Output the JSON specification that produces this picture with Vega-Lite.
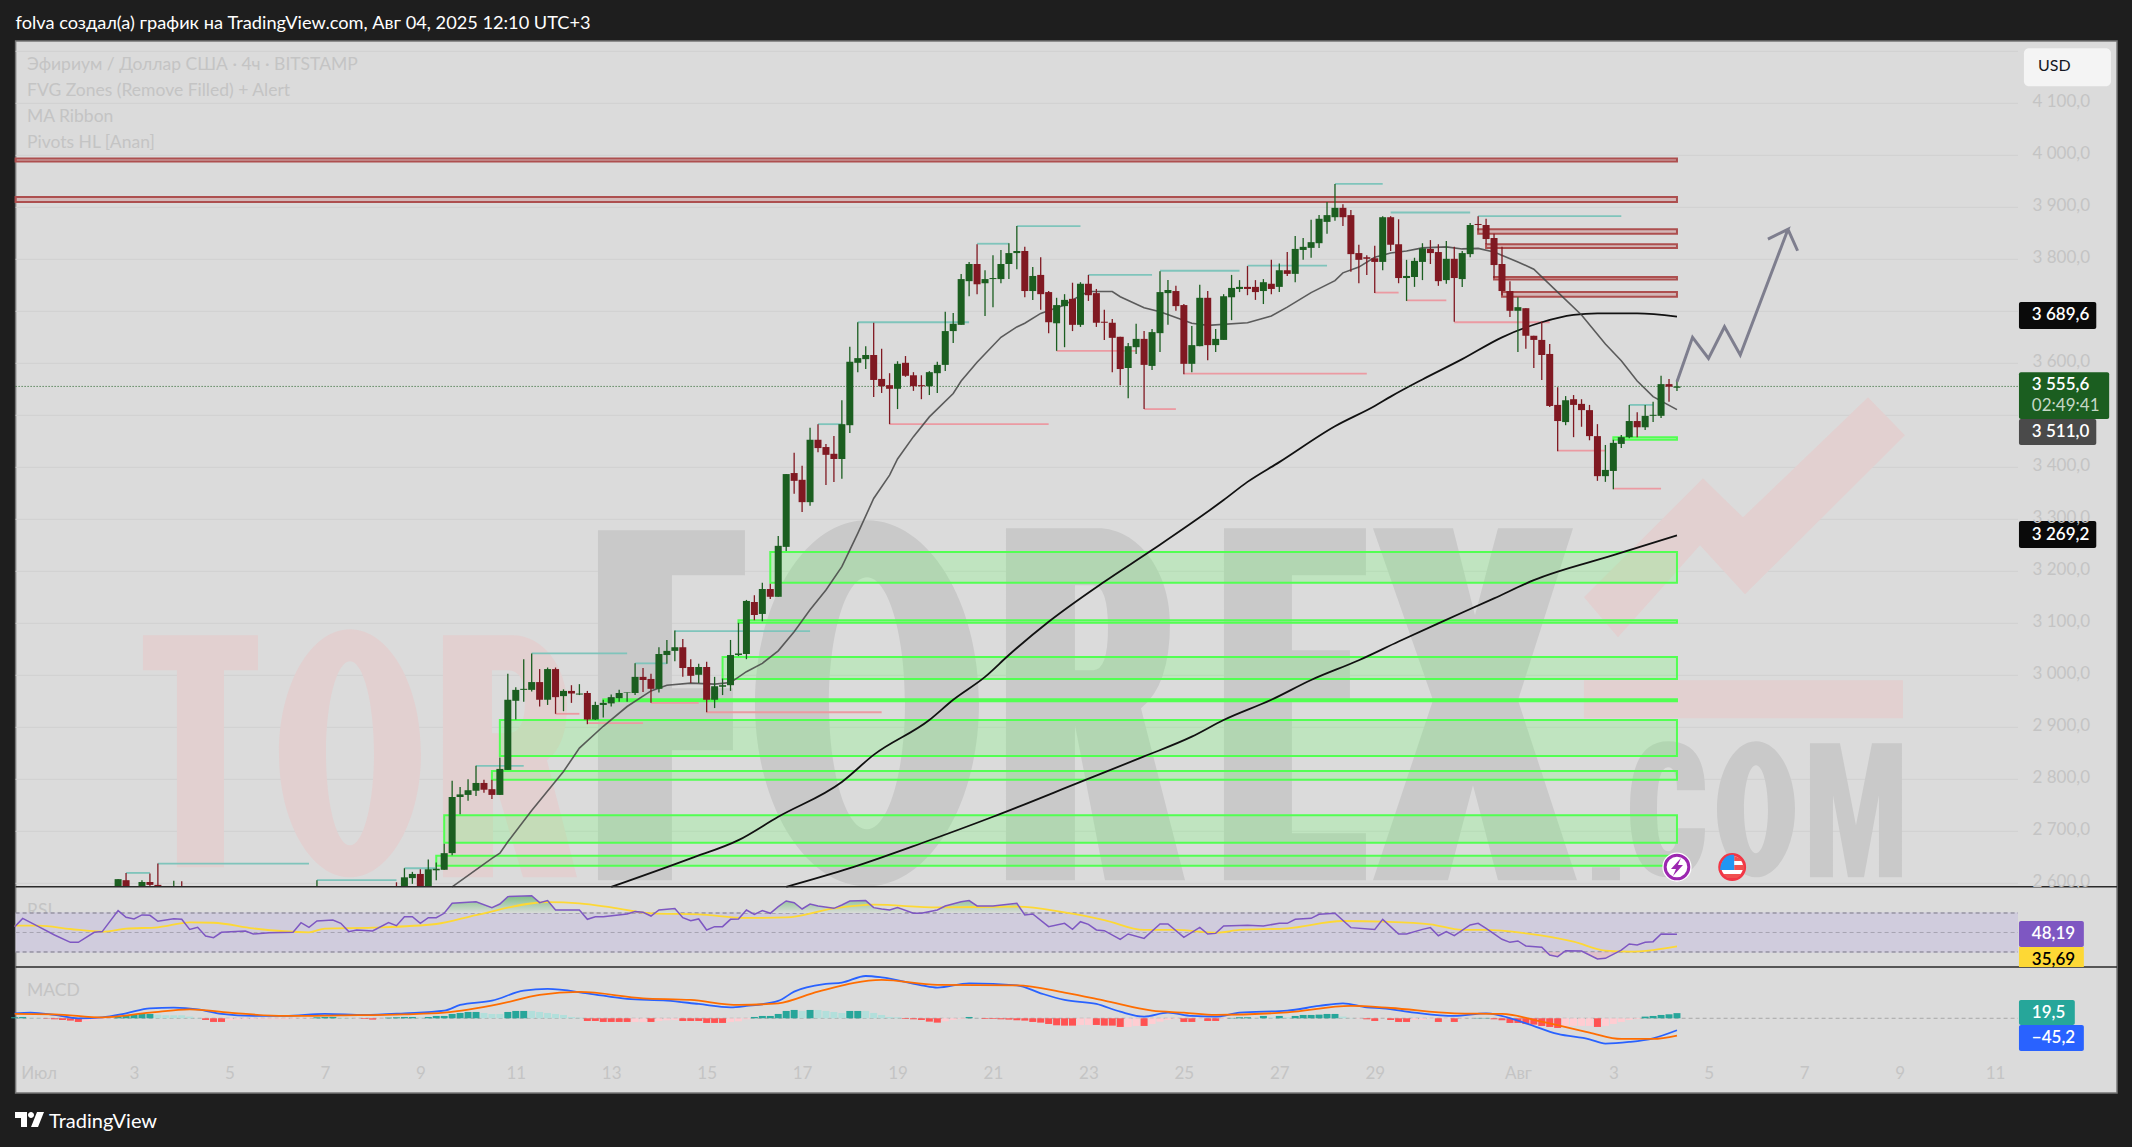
{"$schema":"https://vega.github.io/schema/vega-lite/v6.json","width":2132,"height":1147,"padding":0,"autosize":{"type":"none"},"background":"#1e1e1e","config":{"view":{"stroke":null},"font":"Lato"},
"datasets":{
"frame":[{"t":"2025-06-30T12:27Z","t2":"2025-08-13T13:19Z","p":4219.8,"p2":2196.7}],
"vgrid":[{"t":"2025-07-01T00:00Z"},{"t":"2025-07-03T00:00Z"},{"t":"2025-07-05T00:00Z"},{"t":"2025-07-07T00:00Z"},{"t":"2025-07-09T00:00Z"},{"t":"2025-07-11T00:00Z"},{"t":"2025-07-13T00:00Z"},{"t":"2025-07-15T00:00Z"},{"t":"2025-07-17T00:00Z"},{"t":"2025-07-19T00:00Z"},{"t":"2025-07-21T00:00Z"},{"t":"2025-07-23T00:00Z"},{"t":"2025-07-25T00:00Z"},{"t":"2025-07-27T00:00Z"},{"t":"2025-07-29T00:00Z"},{"t":"2025-08-01T00:00Z"},{"t":"2025-08-03T00:00Z"},{"t":"2025-08-05T00:00Z"},{"t":"2025-08-07T00:00Z"},{"t":"2025-08-09T00:00Z"},{"t":"2025-08-11T00:00Z"}],
"hgrid":[{"t":"2025-06-30T12:27Z","t2":"2025-08-11T11:31Z","p":2600},{"t":"2025-06-30T12:27Z","t2":"2025-08-11T11:31Z","p":2700},{"t":"2025-06-30T12:27Z","t2":"2025-08-11T11:31Z","p":2800},{"t":"2025-06-30T12:27Z","t2":"2025-08-11T11:31Z","p":2900},{"t":"2025-06-30T12:27Z","t2":"2025-08-11T11:31Z","p":3000},{"t":"2025-06-30T12:27Z","t2":"2025-08-11T11:31Z","p":3100},{"t":"2025-06-30T12:27Z","t2":"2025-08-11T11:31Z","p":3200},{"t":"2025-06-30T12:27Z","t2":"2025-08-11T11:31Z","p":3300},{"t":"2025-06-30T12:27Z","t2":"2025-08-11T11:31Z","p":3400},{"t":"2025-06-30T12:27Z","t2":"2025-08-11T11:31Z","p":3500},{"t":"2025-06-30T12:27Z","t2":"2025-08-11T11:31Z","p":3600},{"t":"2025-06-30T12:27Z","t2":"2025-08-11T11:31Z","p":3700},{"t":"2025-06-30T12:27Z","t2":"2025-08-11T11:31Z","p":3800},{"t":"2025-06-30T12:27Z","t2":"2025-08-11T11:31Z","p":3900},{"t":"2025-06-30T12:27Z","t2":"2025-08-11T11:31Z","p":4000},{"t":"2025-06-30T12:27Z","t2":"2025-08-11T11:31Z","p":4100},{"t":"2025-06-30T12:27Z","t2":"2025-08-11T11:31Z","p":4200}],
"anchor":[{"t":"2025-07-21T00:00Z","p":3000}],
"zonesG":[{"t":"2025-07-16T08:00Z","t2":"2025-08-04T08:00Z","p":3237,"p2":3178},{"t":"2025-07-15T16:00Z","t2":"2025-08-04T08:00Z","p":3106,"p2":3101},{"t":"2025-07-15T08:00Z","t2":"2025-08-04T08:00Z","p":3035,"p2":2993},{"t":"2025-07-12T20:00Z","t2":"2025-08-04T08:00Z","p":2954,"p2":2950},{"t":"2025-07-10T16:00Z","t2":"2025-08-04T08:00Z","p":2914,"p2":2845},{"t":"2025-07-10T12:00Z","t2":"2025-08-04T08:00Z","p":2816,"p2":2799},{"t":"2025-07-09T12:00Z","t2":"2025-08-04T08:00Z","p":2731,"p2":2678},{"t":"2025-07-09T08:00Z","t2":"2025-08-04T08:00Z","p":2653,"p2":2634},{"t":"2025-08-03T00:00Z","t2":"2025-08-04T08:00Z","p":3458,"p2":3453}],
"zonesR":[{"t":"2025-06-30T12:27Z","t2":"2025-08-04T08:00Z","p":3994,"p2":3988},{"t":"2025-06-30T12:27Z","t2":"2025-08-04T08:00Z","p":3920,"p2":3910},{"t":"2025-07-31T04:00Z","t2":"2025-08-04T08:00Z","p":3858,"p2":3849},{"t":"2025-07-31T08:00Z","t2":"2025-08-04T08:00Z","p":3829,"p2":3822},{"t":"2025-07-31T12:00Z","t2":"2025-08-04T08:00Z","p":3766,"p2":3761},{"t":"2025-07-31T16:00Z","t2":"2025-08-04T08:00Z","p":3737,"p2":3728}],
"highs":[{"t":"2025-07-02T20:00Z","t2":"2025-07-03T08:00Z","p":2620},{"t":"2025-07-03T12:00Z","t2":"2025-07-06T16:00Z","p":2638},{"t":"2025-07-06T20:00Z","t2":"2025-07-08T12:00Z","p":2606},{"t":"2025-07-08T16:00Z","t2":"2025-07-09T08:00Z","p":2629},{"t":"2025-07-10T04:00Z","t2":"2025-07-11T04:00Z","p":2826},{"t":"2025-07-11T08:00Z","t2":"2025-07-13T08:00Z","p":3042},{"t":"2025-07-13T12:00Z","t2":"2025-07-14T04:00Z","p":3023},{"t":"2025-07-14T08:00Z","t2":"2025-07-17T04:00Z","p":3085},{"t":"2025-07-17T08:00Z","t2":"2025-07-17T20:00Z","p":3483},{"t":"2025-07-18T04:00Z","t2":"2025-07-20T12:00Z","p":3679},{"t":"2025-07-20T16:00Z","t2":"2025-07-21T08:00Z","p":3830},{"t":"2025-07-21T12:00Z","t2":"2025-07-22T20:00Z","p":3864},{"t":"2025-07-23T00:00Z","t2":"2025-07-24T08:00Z","p":3770},{"t":"2025-07-24T12:00Z","t2":"2025-07-26T04:00Z","p":3778},{"t":"2025-07-26T08:00Z","t2":"2025-07-28T00:00Z","p":3788},{"t":"2025-07-28T04:00Z","t2":"2025-07-29T04:00Z","p":3945},{"t":"2025-07-29T08:00Z","t2":"2025-07-31T00:00Z","p":3890},{"t":"2025-07-31T04:00Z","t2":"2025-08-03T04:00Z","p":3883},{"t":"2025-08-03T08:00Z","t2":"2025-08-03T20:00Z","p":3520}],
"lows":[{"t":"2025-07-11T20:00Z","t2":"2025-07-12T08:00Z","p":2926},{"t":"2025-07-12T12:00Z","t2":"2025-07-13T16:00Z","p":2908},{"t":"2025-07-13T20:00Z","t2":"2025-07-14T20:00Z","p":2947},{"t":"2025-07-15T00:00Z","t2":"2025-07-18T16:00Z","p":2929},{"t":"2025-07-18T20:00Z","t2":"2025-07-22T04:00Z","p":3483},{"t":"2025-07-22T08:00Z","t2":"2025-07-24T00:00Z","p":3624},{"t":"2025-07-24T04:00Z","t2":"2025-07-24T20:00Z","p":3512},{"t":"2025-07-25T00:00Z","t2":"2025-07-28T20:00Z","p":3580},{"t":"2025-07-29T00:00Z","t2":"2025-07-29T12:00Z","p":3736},{"t":"2025-07-29T16:00Z","t2":"2025-07-30T12:00Z","p":3721},{"t":"2025-07-30T16:00Z","t2":"2025-08-01T16:00Z","p":3679},{"t":"2025-08-01T20:00Z","t2":"2025-08-02T20:00Z","p":3432},{"t":"2025-08-03T00:00Z","t2":"2025-08-04T00:00Z","p":3359}],
"maFast":[{"t":"2025-07-09T16:00Z","p":2593},{"t":"2025-07-10T12:00Z","p":2648},{"t":"2025-07-10T16:00Z","p":2658},{"t":"2025-07-10T20:00Z","p":2680},{"t":"2025-07-11T08:00Z","p":2740},{"t":"2025-07-12T00:00Z","p":2815},{"t":"2025-07-12T08:00Z","p":2860},{"t":"2025-07-12T20:00Z","p":2902},{"t":"2025-07-13T08:00Z","p":2940},{"t":"2025-07-13T20:00Z","p":2970},{"t":"2025-07-14T04:00Z","p":2981},{"t":"2025-07-14T16:00Z","p":2985},{"t":"2025-07-15T04:00Z","p":2983},{"t":"2025-07-15T12:00Z","p":2986},{"t":"2025-07-15T20:00Z","p":3007},{"t":"2025-07-16T04:00Z","p":3023},{"t":"2025-07-16T12:00Z","p":3047},{"t":"2025-07-16T20:00Z","p":3084},{"t":"2025-07-17T04:00Z","p":3126},{"t":"2025-07-17T12:00Z","p":3164},{"t":"2025-07-17T20:00Z","p":3209},{"t":"2025-07-18T04:00Z","p":3273},{"t":"2025-07-18T12:00Z","p":3340},{"t":"2025-07-18T20:00Z","p":3385},{"t":"2025-07-19T00:00Z","p":3416},{"t":"2025-07-19T08:00Z","p":3459},{"t":"2025-07-19T16:00Z","p":3497},{"t":"2025-07-20T04:00Z","p":3542},{"t":"2025-07-20T08:00Z","p":3566},{"t":"2025-07-20T16:00Z","p":3602},{"t":"2025-07-21T04:00Z","p":3650},{"t":"2025-07-21T12:00Z","p":3670},{"t":"2025-07-21T16:00Z","p":3677},{"t":"2025-07-22T00:00Z","p":3696},{"t":"2025-07-22T12:00Z","p":3712},{"t":"2025-07-22T16:00Z","p":3722},{"t":"2025-07-23T00:00Z","p":3738},{"t":"2025-07-23T12:00Z","p":3738},{"t":"2025-07-23T16:00Z","p":3728},{"t":"2025-07-24T04:00Z","p":3707},{"t":"2025-07-24T12:00Z","p":3699},{"t":"2025-07-24T20:00Z","p":3688},{"t":"2025-07-25T04:00Z","p":3677},{"t":"2025-07-25T12:00Z","p":3673},{"t":"2025-07-26T08:00Z","p":3678},{"t":"2025-07-26T20:00Z","p":3691},{"t":"2025-07-27T04:00Z","p":3708},{"t":"2025-07-27T16:00Z","p":3736},{"t":"2025-07-28T04:00Z","p":3759},{"t":"2025-07-28T08:00Z","p":3774},{"t":"2025-07-28T16:00Z","p":3785},{"t":"2025-07-29T00:00Z","p":3804},{"t":"2025-07-29T08:00Z","p":3812},{"t":"2025-07-29T16:00Z","p":3816},{"t":"2025-07-30T00:00Z","p":3822},{"t":"2025-07-30T12:00Z","p":3824},{"t":"2025-07-30T20:00Z","p":3820},{"t":"2025-07-31T04:00Z","p":3821},{"t":"2025-07-31T12:00Z","p":3814},{"t":"2025-08-01T00:00Z","p":3795},{"t":"2025-08-01T08:00Z","p":3781},{"t":"2025-08-01T20:00Z","p":3737},{"t":"2025-08-02T08:00Z","p":3693},{"t":"2025-08-02T20:00Z","p":3637},{"t":"2025-08-03T04:00Z","p":3605},{"t":"2025-08-03T12:00Z","p":3566},{"t":"2025-08-03T20:00Z","p":3536},{"t":"2025-08-04T08:00Z","p":3511}],
"maMid":[{"t":"2025-07-13T00:00Z","p":2593},{"t":"2025-07-14T16:00Z","p":2648},{"t":"2025-07-15T16:00Z","p":2683},{"t":"2025-07-16T12:00Z","p":2728},{"t":"2025-07-17T20:00Z","p":2795},{"t":"2025-07-18T12:00Z","p":2847},{"t":"2025-07-19T16:00Z","p":2914},{"t":"2025-07-20T04:00Z","p":2953},{"t":"2025-07-20T20:00Z","p":2997},{"t":"2025-07-21T08:00Z","p":3039},{"t":"2025-07-22T04:00Z","p":3103},{"t":"2025-07-23T08:00Z","p":3180},{"t":"2025-07-24T08:00Z","p":3241},{"t":"2025-07-25T20:00Z","p":3337},{"t":"2025-07-26T08:00Z","p":3372},{"t":"2025-07-27T00:00Z","p":3410},{"t":"2025-07-28T04:00Z","p":3479},{"t":"2025-07-29T00:00Z","p":3518},{"t":"2025-07-29T08:00Z","p":3536},{"t":"2025-07-30T00:00Z","p":3569},{"t":"2025-07-30T20:00Z","p":3608},{"t":"2025-07-31T16:00Z","p":3650},{"t":"2025-08-01T12:00Z","p":3679},{"t":"2025-08-02T04:00Z","p":3693},{"t":"2025-08-02T16:00Z","p":3696},{"t":"2025-08-03T12:00Z","p":3696},{"t":"2025-08-04T08:00Z","p":3690}],
"maSlow":[{"t":"2025-07-16T16:00Z","p":2593},{"t":"2025-07-18T00:00Z","p":2629},{"t":"2025-07-19T12:00Z","p":2677},{"t":"2025-07-21T00:00Z","p":2728},{"t":"2025-07-22T20:00Z","p":2795},{"t":"2025-07-24T04:00Z","p":2844},{"t":"2025-07-25T04:00Z","p":2882},{"t":"2025-07-25T20:00Z","p":2914},{"t":"2025-07-26T20:00Z","p":2953},{"t":"2025-07-27T16:00Z","p":2991},{"t":"2025-07-28T16:00Z","p":3029},{"t":"2025-07-29T12:00Z","p":3065},{"t":"2025-07-30T08:00Z","p":3100},{"t":"2025-07-31T12:00Z","p":3148},{"t":"2025-08-01T08:00Z","p":3183},{"t":"2025-08-03T00:00Z","p":3231},{"t":"2025-08-04T08:00Z","p":3269.2}],
"arrow":[{"i":1,"t":"2025-08-04T08:00Z","p":3564.6},{"i":2,"t":"2025-08-04T15:50Z","p":3650},{"i":3,"t":"2025-08-04T23:51Z","p":3609.6},{"i":4,"t":"2025-08-05T07:54Z","p":3670.4},{"i":5,"t":"2025-08-05T15:50Z","p":3616},{"i":6,"t":"2025-08-06T15:50Z","p":3857.7},{"i":7,"t":"2025-08-06T05:45Z","p":3839},{"i":8,"t":"2025-08-06T15:50Z","p":3857.7},{"i":9,"t":"2025-08-06T20:40Z","p":3816.5}],
"candles":[
{"t":"2025-07-02T16:00Z","o":2593.2,"h":2608,"l":2593.2,"c":2608},
{"t":"2025-07-02T20:00Z","o":2606,"h":2620,"l":2593.2,"c":2593.2},
{"t":"2025-07-03T04:00Z","o":2593.2,"h":2606,"l":2593.2,"c":2602.5},
{"t":"2025-07-03T08:00Z","o":2602.5,"h":2619,"l":2593.2,"c":2597},
{"t":"2025-07-03T12:00Z","o":2597,"h":2638,"l":2593.2,"c":2593.2},
{"t":"2025-07-03T16:00Z","o":2593.2,"h":2595,"l":2593.2,"c":2593.2},
{"t":"2025-07-03T20:00Z","o":2593.2,"h":2605,"l":2593.2,"c":2593.2},
{"t":"2025-07-04T00:00Z","o":2593.3,"h":2604,"l":2593.2,"c":2593.2},
{"t":"2025-07-06T20:00Z","o":2593.2,"h":2606,"l":2593.2,"c":2593.2},
{"t":"2025-07-08T12:00Z","o":2593.3,"h":2602,"l":2593.2,"c":2593.2},
{"t":"2025-07-08T16:00Z","o":2593.2,"h":2629,"l":2593.2,"c":2611.5},
{"t":"2025-07-08T20:00Z","o":2610,"h":2622,"l":2599,"c":2618},
{"t":"2025-07-09T00:00Z","o":2618,"h":2627,"l":2593.2,"c":2593.2},
{"t":"2025-07-09T04:00Z","o":2593.2,"h":2646,"l":2593.2,"c":2627},
{"t":"2025-07-09T08:00Z","o":2625,"h":2640,"l":2606,"c":2628},
{"t":"2025-07-09T12:00Z","o":2626,"h":2676,"l":2626,"c":2658},
{"t":"2025-07-09T16:00Z","o":2658,"h":2797,"l":2654,"c":2766},
{"t":"2025-07-09T20:00Z","o":2766,"h":2785,"l":2733,"c":2771},
{"t":"2025-07-10T00:00Z","o":2770,"h":2800,"l":2759,"c":2779},
{"t":"2025-07-10T04:00Z","o":2778,"h":2826,"l":2768,"c":2793},
{"t":"2025-07-10T08:00Z","o":2793,"h":2799,"l":2774,"c":2780},
{"t":"2025-07-10T12:00Z","o":2781,"h":2799,"l":2762,"c":2770},
{"t":"2025-07-10T16:00Z","o":2770,"h":2842,"l":2770,"c":2820},
{"t":"2025-07-10T20:00Z","o":2818,"h":3003,"l":2818,"c":2953},
{"t":"2025-07-11T00:00Z","o":2951,"h":2977,"l":2915,"c":2972},
{"t":"2025-07-11T04:00Z","o":2972,"h":3031,"l":2949,"c":2974},
{"t":"2025-07-11T08:00Z","o":2972,"h":3042,"l":2969,"c":2987},
{"t":"2025-07-11T12:00Z","o":2987,"h":3012,"l":2940,"c":2953},
{"t":"2025-07-11T16:00Z","o":2953,"h":3015,"l":2943,"c":3012},
{"t":"2025-07-11T20:00Z","o":3012,"h":3015,"l":2926,"c":2958},
{"t":"2025-07-12T00:00Z","o":2960,"h":2973,"l":2931,"c":2970},
{"t":"2025-07-12T04:00Z","o":2970,"h":2981,"l":2947,"c":2965},
{"t":"2025-07-12T08:00Z","o":2963,"h":2983,"l":2962,"c":2965},
{"t":"2025-07-12T12:00Z","o":2966,"h":2970,"l":2906,"c":2915},
{"t":"2025-07-12T16:00Z","o":2915,"h":2949,"l":2914,"c":2943},
{"t":"2025-07-12T20:00Z","o":2943,"h":2953,"l":2919,"c":2947},
{"t":"2025-07-13T00:00Z","o":2946,"h":2963,"l":2940,"c":2958},
{"t":"2025-07-13T04:00Z","o":2956,"h":2972,"l":2949,"c":2966},
{"t":"2025-07-13T08:00Z","o":2966,"h":2967,"l":2949,"c":2967},
{"t":"2025-07-13T12:00Z","o":2966,"h":3023,"l":2962,"c":2997},
{"t":"2025-07-13T16:00Z","o":2997,"h":3014,"l":2968,"c":2991},
{"t":"2025-07-13T20:00Z","o":2993,"h":3003,"l":2947,"c":2974},
{"t":"2025-07-14T00:00Z","o":2974,"h":3054,"l":2967,"c":3041},
{"t":"2025-07-14T04:00Z","o":3039,"h":3068,"l":3022,"c":3047},
{"t":"2025-07-14T08:00Z","o":3047,"h":3086,"l":3027,"c":3054},
{"t":"2025-07-14T12:00Z","o":3054,"h":3070,"l":2997,"c":3014},
{"t":"2025-07-14T16:00Z","o":3016,"h":3031,"l":2985,"c":2999},
{"t":"2025-07-14T20:00Z","o":3001,"h":3022,"l":2985,"c":3016},
{"t":"2025-07-15T00:00Z","o":3016,"h":3026,"l":2929,"c":2953},
{"t":"2025-07-15T04:00Z","o":2953,"h":2997,"l":2937,"c":2979},
{"t":"2025-07-15T08:00Z","o":2978,"h":2994,"l":2962,"c":2981},
{"t":"2025-07-15T12:00Z","o":2981,"h":3068,"l":2970,"c":3039},
{"t":"2025-07-15T16:00Z","o":3039,"h":3101,"l":3037,"c":3042},
{"t":"2025-07-15T20:00Z","o":3041,"h":3145,"l":3031,"c":3143},
{"t":"2025-07-16T00:00Z","o":3141,"h":3154,"l":3106,"c":3116},
{"t":"2025-07-16T04:00Z","o":3118,"h":3178,"l":3104,"c":3166},
{"t":"2025-07-16T08:00Z","o":3166,"h":3176,"l":3147,"c":3151},
{"t":"2025-07-16T12:00Z","o":3151,"h":3268,"l":3151,"c":3249},
{"t":"2025-07-16T16:00Z","o":3247,"h":3387,"l":3239,"c":3387},
{"t":"2025-07-16T20:00Z","o":3389,"h":3428,"l":3349,"c":3374},
{"t":"2025-07-17T00:00Z","o":3376,"h":3403,"l":3314,"c":3333},
{"t":"2025-07-17T04:00Z","o":3333,"h":3476,"l":3326,"c":3453},
{"t":"2025-07-17T08:00Z","o":3453,"h":3483,"l":3429,"c":3437},
{"t":"2025-07-17T12:00Z","o":3439,"h":3445,"l":3366,"c":3424},
{"t":"2025-07-17T16:00Z","o":3426,"h":3460,"l":3372,"c":3416},
{"t":"2025-07-17T20:00Z","o":3416,"h":3529,"l":3378,"c":3483},
{"t":"2025-07-18T00:00Z","o":3481,"h":3632,"l":3466,"c":3603},
{"t":"2025-07-18T04:00Z","o":3601,"h":3679,"l":3583,"c":3610},
{"t":"2025-07-18T08:00Z","o":3608,"h":3633,"l":3589,"c":3616},
{"t":"2025-07-18T12:00Z","o":3616,"h":3678,"l":3535,"c":3568},
{"t":"2025-07-18T16:00Z","o":3570,"h":3628,"l":3543,"c":3556},
{"t":"2025-07-18T20:00Z","o":3558,"h":3581,"l":3483,"c":3551},
{"t":"2025-07-19T00:00Z","o":3551,"h":3604,"l":3512,"c":3599},
{"t":"2025-07-19T04:00Z","o":3601,"h":3614,"l":3574,"c":3576},
{"t":"2025-07-19T08:00Z","o":3577,"h":3583,"l":3547,"c":3556},
{"t":"2025-07-19T12:00Z","o":3558,"h":3577,"l":3531,"c":3556},
{"t":"2025-07-19T16:00Z","o":3556,"h":3585,"l":3539,"c":3583},
{"t":"2025-07-19T20:00Z","o":3581,"h":3603,"l":3543,"c":3597},
{"t":"2025-07-20T00:00Z","o":3597,"h":3699,"l":3585,"c":3662},
{"t":"2025-07-20T04:00Z","o":3662,"h":3697,"l":3639,"c":3676},
{"t":"2025-07-20T08:00Z","o":3674,"h":3772,"l":3674,"c":3762},
{"t":"2025-07-20T12:00Z","o":3758,"h":3795,"l":3729,"c":3791},
{"t":"2025-07-20T16:00Z","o":3791,"h":3829,"l":3733,"c":3752},
{"t":"2025-07-20T20:00Z","o":3754,"h":3779,"l":3691,"c":3762},
{"t":"2025-07-21T00:00Z","o":3762,"h":3808,"l":3708,"c":3764},
{"t":"2025-07-21T04:00Z","o":3762,"h":3818,"l":3754,"c":3791},
{"t":"2025-07-21T08:00Z","o":3791,"h":3831,"l":3762,"c":3812},
{"t":"2025-07-21T12:00Z","o":3812,"h":3864,"l":3781,"c":3816},
{"t":"2025-07-21T16:00Z","o":3816,"h":3824,"l":3727,"c":3739},
{"t":"2025-07-21T20:00Z","o":3739,"h":3785,"l":3722,"c":3768},
{"t":"2025-07-22T00:00Z","o":3770,"h":3804,"l":3703,"c":3733},
{"t":"2025-07-22T04:00Z","o":3737,"h":3739,"l":3658,"c":3679},
{"t":"2025-07-22T08:00Z","o":3677,"h":3726,"l":3624,"c":3712},
{"t":"2025-07-22T12:00Z","o":3710,"h":3733,"l":3631,"c":3722},
{"t":"2025-07-22T16:00Z","o":3724,"h":3755,"l":3662,"c":3674},
{"t":"2025-07-22T20:00Z","o":3674,"h":3756,"l":3670,"c":3753},
{"t":"2025-07-23T00:00Z","o":3753,"h":3770,"l":3720,"c":3731},
{"t":"2025-07-23T04:00Z","o":3735,"h":3743,"l":3670,"c":3678},
{"t":"2025-07-23T08:00Z","o":3680,"h":3703,"l":3645,"c":3678},
{"t":"2025-07-23T12:00Z","o":3678,"h":3685,"l":3583,"c":3649},
{"t":"2025-07-23T16:00Z","o":3651,"h":3651,"l":3558,"c":3589},
{"t":"2025-07-23T20:00Z","o":3591,"h":3639,"l":3533,"c":3633},
{"t":"2025-07-24T00:00Z","o":3631,"h":3676,"l":3618,"c":3647},
{"t":"2025-07-24T04:00Z","o":3647,"h":3662,"l":3512,"c":3597},
{"t":"2025-07-24T08:00Z","o":3595,"h":3666,"l":3587,"c":3660},
{"t":"2025-07-24T12:00Z","o":3658,"h":3777,"l":3622,"c":3737},
{"t":"2025-07-24T16:00Z","o":3735,"h":3760,"l":3674,"c":3741},
{"t":"2025-07-24T20:00Z","o":3739,"h":3749,"l":3701,"c":3710},
{"t":"2025-07-25T00:00Z","o":3712,"h":3714,"l":3579,"c":3599},
{"t":"2025-07-25T04:00Z","o":3599,"h":3672,"l":3583,"c":3635},
{"t":"2025-07-25T08:00Z","o":3633,"h":3751,"l":3633,"c":3726},
{"t":"2025-07-25T12:00Z","o":3726,"h":3739,"l":3606,"c":3635},
{"t":"2025-07-25T16:00Z","o":3635,"h":3666,"l":3622,"c":3647},
{"t":"2025-07-25T20:00Z","o":3645,"h":3733,"l":3645,"c":3729},
{"t":"2025-07-26T00:00Z","o":3727,"h":3770,"l":3683,"c":3745},
{"t":"2025-07-26T04:00Z","o":3743,"h":3760,"l":3737,"c":3747},
{"t":"2025-07-26T08:00Z","o":3747,"h":3787,"l":3731,"c":3743},
{"t":"2025-07-26T12:00Z","o":3747,"h":3760,"l":3722,"c":3737},
{"t":"2025-07-26T16:00Z","o":3739,"h":3762,"l":3714,"c":3756},
{"t":"2025-07-26T20:00Z","o":3753,"h":3799,"l":3733,"c":3743},
{"t":"2025-07-27T00:00Z","o":3747,"h":3792,"l":3737,"c":3779},
{"t":"2025-07-27T04:00Z","o":3779,"h":3814,"l":3768,"c":3772},
{"t":"2025-07-27T08:00Z","o":3772,"h":3845,"l":3756,"c":3820},
{"t":"2025-07-27T12:00Z","o":3818,"h":3841,"l":3799,"c":3824},
{"t":"2025-07-27T16:00Z","o":3822,"h":3876,"l":3803,"c":3833},
{"t":"2025-07-27T20:00Z","o":3831,"h":3885,"l":3822,"c":3878},
{"t":"2025-07-28T00:00Z","o":3872,"h":3910,"l":3849,"c":3885},
{"t":"2025-07-28T04:00Z","o":3881,"h":3945,"l":3874,"c":3899},
{"t":"2025-07-28T08:00Z","o":3899,"h":3906,"l":3864,"c":3881},
{"t":"2025-07-28T12:00Z","o":3885,"h":3895,"l":3776,"c":3810},
{"t":"2025-07-28T16:00Z","o":3812,"h":3828,"l":3754,"c":3799},
{"t":"2025-07-28T20:00Z","o":3804,"h":3808,"l":3770,"c":3801},
{"t":"2025-07-29T00:00Z","o":3802,"h":3826,"l":3735,"c":3795},
{"t":"2025-07-29T04:00Z","o":3795,"h":3883,"l":3779,"c":3881},
{"t":"2025-07-29T08:00Z","o":3881,"h":3883,"l":3816,"c":3828},
{"t":"2025-07-29T12:00Z","o":3829,"h":3877,"l":3754,"c":3764},
{"t":"2025-07-29T16:00Z","o":3764,"h":3799,"l":3720,"c":3768},
{"t":"2025-07-29T20:00Z","o":3766,"h":3803,"l":3747,"c":3797},
{"t":"2025-07-30T00:00Z","o":3795,"h":3831,"l":3760,"c":3821},
{"t":"2025-07-30T04:00Z","o":3820,"h":3837,"l":3791,"c":3812},
{"t":"2025-07-30T08:00Z","o":3814,"h":3829,"l":3749,"c":3758},
{"t":"2025-07-30T12:00Z","o":3760,"h":3835,"l":3753,"c":3801},
{"t":"2025-07-30T16:00Z","o":3801,"h":3824,"l":3680,"c":3764},
{"t":"2025-07-30T20:00Z","o":3762,"h":3816,"l":3747,"c":3812},
{"t":"2025-07-31T00:00Z","o":3810,"h":3870,"l":3804,"c":3866},
{"t":"2025-07-31T04:00Z","o":3868,"h":3883,"l":3856,"c":3866},
{"t":"2025-07-31T08:00Z","o":3866,"h":3878,"l":3829,"c":3839},
{"t":"2025-07-31T12:00Z","o":3841,"h":3849,"l":3764,"c":3789},
{"t":"2025-07-31T16:00Z","o":3791,"h":3824,"l":3731,"c":3739},
{"t":"2025-07-31T20:00Z","o":3739,"h":3758,"l":3689,"c":3701},
{"t":"2025-08-01T00:00Z","o":3701,"h":3727,"l":3622,"c":3708},
{"t":"2025-08-01T04:00Z","o":3706,"h":3706,"l":3628,"c":3653},
{"t":"2025-08-01T08:00Z","o":3653,"h":3653,"l":3591,"c":3645},
{"t":"2025-08-01T12:00Z","o":3645,"h":3680,"l":3568,"c":3616},
{"t":"2025-08-01T16:00Z","o":3618,"h":3637,"l":3516,"c":3518},
{"t":"2025-08-01T20:00Z","o":3520,"h":3554,"l":3431,"c":3489},
{"t":"2025-08-02T00:00Z","o":3487,"h":3537,"l":3481,"c":3529},
{"t":"2025-08-02T04:00Z","o":3531,"h":3539,"l":3458,"c":3520},
{"t":"2025-08-02T08:00Z","o":3522,"h":3531,"l":3478,"c":3510},
{"t":"2025-08-02T12:00Z","o":3510,"h":3520,"l":3452,"c":3460},
{"t":"2025-08-02T16:00Z","o":3460,"h":3483,"l":3374,"c":3383},
{"t":"2025-08-02T20:00Z","o":3383,"h":3443,"l":3372,"c":3395},
{"t":"2025-08-03T00:00Z","o":3393,"h":3453,"l":3358,"c":3447},
{"t":"2025-08-03T04:00Z","o":3445,"h":3462,"l":3437,"c":3458},
{"t":"2025-08-03T08:00Z","o":3458,"h":3520,"l":3456,"c":3489},
{"t":"2025-08-03T12:00Z","o":3489,"h":3506,"l":3458,"c":3477},
{"t":"2025-08-03T16:00Z","o":3477,"h":3520,"l":3472,"c":3499},
{"t":"2025-08-03T20:00Z","o":3499,"h":3526,"l":3487,"c":3501},
{"t":"2025-08-04T00:00Z","o":3499,"h":3576,"l":3495,"c":3560},
{"t":"2025-08-04T04:00Z","o":3560,"h":3570,"l":3526,"c":3555},
{"t":"2025-08-04T08:00Z","o":3553,"h":3568,"l":3547,"c":3555.6}],
"lastPrice":[{"t":"2025-06-30T12:27Z","t2":"2025-08-11T11:31Z","p":3555.6}],
"dividers":[{"t":"2025-06-30T12:27Z","t2":"2025-08-13T13:19Z","p":2593.2},{"t":"2025-06-30T12:27Z","t2":"2025-08-13T13:19Z","p":2439}],
"badge1":[{"t":"2025-08-04T08:00Z","p":2631.3}],
"badge2":[{"t":"2025-08-05T11:46Z","p":2631.3}],
"tvAnchor":[{"t":"2025-06-30T12:09Z","p":2160.2}],
"usdTag":[{"t":"2025-08-11T14:30Z","t2":"2025-08-13T10:15Z","p":4206,"p2":4133}],
"usdText":[{"t":"2025-08-11T21:36Z","p":4172,"label":"USD"}],
"tagBlack":[{"t":"2025-08-11T12:00Z","t2":"2025-08-13T02:53Z","p":3717.9,"p2":3666},{"t":"2025-08-11T12:00Z","t2":"2025-08-13T02:53Z","p":3296.7,"p2":3244.8}],
"tagGreen":[{"t":"2025-08-11T12:00Z","t2":"2025-08-13T09:22Z","p":3583,"p2":3492.9}],
"tagGrey":[{"t":"2025-08-11T12:00Z","t2":"2025-08-13T02:53Z","p":3492.9,"p2":3442.9}],
"tagText":[{"t":"2025-08-11T18:29Z","p":3692,"label":"3 689,6"},{"t":"2025-08-11T18:29Z","p":3558,"label":"3 555,6"},{"t":"2025-08-11T18:29Z","p":3468,"label":"3 511,0"},{"t":"2025-08-11T18:29Z","p":3270.8,"label":"3 269,2"}],
"timer":[{"t":"2025-08-11T18:29Z","p":3518,"label":"02:49:41"}],
"header":[{"t":"2025-06-30T12:27Z","p":4252,"label":"folva создал(а) график на TradingView.com, Авг 04, 2025 12:10 UTC+3"}],
"legendText":[{"t":"2025-06-30T18:11Z","p":4173,"label":"Эфириум / Доллар США · 4ч · BITSTAMP"},{"t":"2025-06-30T18:11Z","p":4123,"label":"FVG Zones (Remove Filled) + Alert"},{"t":"2025-06-30T18:11Z","p":4073,"label":"MA Ribbon"},{"t":"2025-06-30T18:11Z","p":4023,"label":"Pivots HL [Anan]"},{"t":"2025-06-30T18:11Z","p":2546.7,"label":"RSI"},{"t":"2025-06-30T18:11Z","p":2392.9,"label":"MACD"}],
"brand":[{"t":"2025-07-01T05:17Z","p":2141,"label":"TradingView"}],
"rsiBand":[{"t":"2025-06-30T12:27Z","t2":"2025-08-11T11:31Z","v":70.5,"v2":29.5}],
"rsiDark":[{"t":"2025-06-30T12:27Z","t2":"2025-08-11T11:31Z","v":70},{"t":"2025-06-30T12:27Z","t2":"2025-08-11T11:31Z","v":30}],
"rsiMid":[{"t":"2025-06-30T12:27Z","t2":"2025-08-11T11:31Z","v":50}],
"rsiOb":[{"t":"2025-07-09T12:00Z","v":70},{"t":"2025-07-09T16:00Z","v":79.9},{"t":"2025-07-10T04:00Z","v":81.6},{"t":"2025-07-10T12:00Z","v":75.5},{"t":"2025-07-10T16:00Z","v":79.2},{"t":"2025-07-10T20:00Z","v":86.8},{"t":"2025-07-11T08:00Z","v":87.8},{"t":"2025-07-11T12:00Z","v":80.6},{"t":"2025-07-11T16:00Z","v":82.7},{"t":"2025-07-11T20:00Z","v":73.1},{"t":"2025-07-12T08:00Z","v":73.1},{"t":"2025-07-12T10:00Z","v":70},{"t":"2025-07-13T10:00Z","v":70},{"t":"2025-07-13T12:00Z","v":71.4},{"t":"2025-07-13T16:00Z","v":70.7},{"t":"2025-07-13T18:00Z","v":70},{"t":"2025-07-13T22:00Z","v":70},{"t":"2025-07-14T00:00Z","v":73.1},{"t":"2025-07-14T08:00Z","v":74.5},{"t":"2025-07-14T10:00Z","v":70},{"t":"2025-07-15T18:00Z","v":70},{"t":"2025-07-15T20:00Z","v":73.1},{"t":"2025-07-16T00:00Z","v":70},{"t":"2025-07-16T04:00Z","v":72.4},{"t":"2025-07-16T08:00Z","v":70},{"t":"2025-07-16T12:00Z","v":76.5},{"t":"2025-07-16T16:00Z","v":82.3},{"t":"2025-07-16T20:00Z","v":80.6},{"t":"2025-07-17T00:00Z","v":74.1},{"t":"2025-07-17T04:00Z","v":79.2},{"t":"2025-07-17T08:00Z","v":77.2},{"t":"2025-07-17T16:00Z","v":74.8},{"t":"2025-07-17T20:00Z","v":78.2},{"t":"2025-07-18T00:00Z","v":82.3},{"t":"2025-07-18T08:00Z","v":82.7},{"t":"2025-07-18T12:00Z","v":75.5},{"t":"2025-07-18T16:00Z","v":74.1},{"t":"2025-07-18T20:00Z","v":73.1},{"t":"2025-07-19T00:00Z","v":75.5},{"t":"2025-07-19T04:00Z","v":70},{"t":"2025-07-19T20:00Z","v":70},{"t":"2025-07-20T00:00Z","v":77.2},{"t":"2025-07-20T08:00Z","v":81.6},{"t":"2025-07-20T12:00Z","v":82.7},{"t":"2025-07-20T16:00Z","v":77.2},{"t":"2025-07-21T00:00Z","v":77.2},{"t":"2025-07-21T12:00Z","v":79.9},{"t":"2025-07-21T16:00Z","v":70}],
"rsiOs":[{"t":"2025-08-01T12:00Z","v":30},{"t":"2025-08-01T16:00Z","v":26.9},{"t":"2025-08-01T20:00Z","v":25.2},{"t":"2025-08-02T00:00Z","v":30},{"t":"2025-08-02T08:00Z","v":30},{"t":"2025-08-02T16:00Z","v":22.8},{"t":"2025-08-02T20:00Z","v":23.5},{"t":"2025-08-03T02:00Z","v":30}],
"rsi":[{"t":"2025-06-30T12:00Z","v":56},{"t":"2025-06-30T16:00Z","v":64.5},{"t":"2025-07-01T00:00Z","v":56},{"t":"2025-07-01T08:00Z","v":47.4},{"t":"2025-07-01T16:00Z","v":39.9},{"t":"2025-07-01T20:00Z","v":39.9},{"t":"2025-07-02T04:00Z","v":50.2},{"t":"2025-07-02T08:00Z","v":50.9},{"t":"2025-07-02T16:00Z","v":72.4},{"t":"2025-07-02T20:00Z","v":65.6},{"t":"2025-07-03T00:00Z","v":63.9},{"t":"2025-07-03T04:00Z","v":68},{"t":"2025-07-03T08:00Z","v":67.6},{"t":"2025-07-03T12:00Z","v":61.5},{"t":"2025-07-03T20:00Z","v":64.2},{"t":"2025-07-04T00:00Z","v":63.5},{"t":"2025-07-04T04:00Z","v":53.2},{"t":"2025-07-04T08:00Z","v":55.3},{"t":"2025-07-04T12:00Z","v":46.4},{"t":"2025-07-04T16:00Z","v":44.7},{"t":"2025-07-04T20:00Z","v":50.2},{"t":"2025-07-05T08:00Z","v":51.5},{"t":"2025-07-05T12:00Z","v":48.5},{"t":"2025-07-05T20:00Z","v":49.8},{"t":"2025-07-06T08:00Z","v":50.2},{"t":"2025-07-06T12:00Z","v":60.1},{"t":"2025-07-06T16:00Z","v":55.3},{"t":"2025-07-06T20:00Z","v":61.8},{"t":"2025-07-07T04:00Z","v":62.8},{"t":"2025-07-07T08:00Z","v":59.4},{"t":"2025-07-07T12:00Z","v":50.9},{"t":"2025-07-07T16:00Z","v":52.6},{"t":"2025-07-08T00:00Z","v":51.5},{"t":"2025-07-08T08:00Z","v":60.1},{"t":"2025-07-08T12:00Z","v":57},{"t":"2025-07-08T16:00Z","v":66.2},{"t":"2025-07-08T20:00Z","v":66.2},{"t":"2025-07-09T00:00Z","v":59.4},{"t":"2025-07-09T04:00Z","v":65.2},{"t":"2025-07-09T08:00Z","v":65.2},{"t":"2025-07-09T12:00Z","v":69.7},{"t":"2025-07-09T16:00Z","v":79.9},{"t":"2025-07-10T04:00Z","v":81.6},{"t":"2025-07-10T12:00Z","v":75.5},{"t":"2025-07-10T16:00Z","v":79.2},{"t":"2025-07-10T20:00Z","v":86.8},{"t":"2025-07-11T08:00Z","v":87.8},{"t":"2025-07-11T12:00Z","v":80.6},{"t":"2025-07-11T16:00Z","v":82.7},{"t":"2025-07-11T20:00Z","v":73.1},{"t":"2025-07-12T08:00Z","v":73.1},{"t":"2025-07-12T12:00Z","v":63.5},{"t":"2025-07-12T16:00Z","v":66.2},{"t":"2025-07-12T20:00Z","v":66.2},{"t":"2025-07-13T08:00Z","v":69},{"t":"2025-07-13T12:00Z","v":71.4},{"t":"2025-07-13T16:00Z","v":70.7},{"t":"2025-07-13T20:00Z","v":66.9},{"t":"2025-07-14T00:00Z","v":73.1},{"t":"2025-07-14T08:00Z","v":74.5},{"t":"2025-07-14T12:00Z","v":65.2},{"t":"2025-07-14T16:00Z","v":62.1},{"t":"2025-07-14T20:00Z","v":63.9},{"t":"2025-07-15T00:00Z","v":52.6},{"t":"2025-07-15T04:00Z","v":56},{"t":"2025-07-15T08:00Z","v":56},{"t":"2025-07-15T12:00Z","v":63.5},{"t":"2025-07-15T16:00Z","v":63.9},{"t":"2025-07-15T20:00Z","v":73.1},{"t":"2025-07-16T00:00Z","v":68.6},{"t":"2025-07-16T04:00Z","v":72.4},{"t":"2025-07-16T08:00Z","v":69.7},{"t":"2025-07-16T12:00Z","v":76.5},{"t":"2025-07-16T16:00Z","v":82.3},{"t":"2025-07-16T20:00Z","v":80.6},{"t":"2025-07-17T00:00Z","v":74.1},{"t":"2025-07-17T04:00Z","v":79.2},{"t":"2025-07-17T08:00Z","v":77.2},{"t":"2025-07-17T16:00Z","v":74.8},{"t":"2025-07-17T20:00Z","v":78.2},{"t":"2025-07-18T00:00Z","v":82.3},{"t":"2025-07-18T08:00Z","v":82.7},{"t":"2025-07-18T12:00Z","v":75.5},{"t":"2025-07-18T16:00Z","v":74.1},{"t":"2025-07-18T20:00Z","v":73.1},{"t":"2025-07-19T00:00Z","v":75.5},{"t":"2025-07-19T08:00Z","v":69.7},{"t":"2025-07-19T12:00Z","v":69.7},{"t":"2025-07-19T20:00Z","v":73.1},{"t":"2025-07-20T00:00Z","v":77.2},{"t":"2025-07-20T08:00Z","v":81.6},{"t":"2025-07-20T12:00Z","v":82.7},{"t":"2025-07-20T16:00Z","v":77.2},{"t":"2025-07-21T00:00Z","v":77.2},{"t":"2025-07-21T12:00Z","v":79.9},{"t":"2025-07-21T16:00Z","v":68},{"t":"2025-07-21T20:00Z","v":69},{"t":"2025-07-22T04:00Z","v":56},{"t":"2025-07-22T12:00Z","v":59.4},{"t":"2025-07-22T16:00Z","v":53.2},{"t":"2025-07-22T20:00Z","v":61.1},{"t":"2025-07-23T00:00Z","v":58.4},{"t":"2025-07-23T04:00Z","v":52.6},{"t":"2025-07-23T08:00Z","v":51.9},{"t":"2025-07-23T16:00Z","v":43},{"t":"2025-07-23T20:00Z","v":48.5},{"t":"2025-07-24T04:00Z","v":44},{"t":"2025-07-24T12:00Z","v":58.7},{"t":"2025-07-24T16:00Z","v":58.7},{"t":"2025-07-25T00:00Z","v":45},{"t":"2025-07-25T08:00Z","v":55.3},{"t":"2025-07-25T12:00Z","v":48.5},{"t":"2025-07-25T16:00Z","v":49.1},{"t":"2025-07-25T20:00Z","v":56.7},{"t":"2025-07-26T08:00Z","v":57.4},{"t":"2025-07-26T16:00Z","v":56.7},{"t":"2025-07-27T00:00Z","v":59.4},{"t":"2025-07-27T04:00Z","v":59.4},{"t":"2025-07-27T08:00Z","v":63.5},{"t":"2025-07-27T16:00Z","v":64.5},{"t":"2025-07-27T20:00Z","v":68.6},{"t":"2025-07-28T04:00Z","v":69.7},{"t":"2025-07-28T12:00Z","v":55},{"t":"2025-07-29T00:00Z","v":53.2},{"t":"2025-07-29T04:00Z","v":63.5},{"t":"2025-07-29T12:00Z","v":48.5},{"t":"2025-07-29T16:00Z","v":48.5},{"t":"2025-07-30T00:00Z","v":53.2},{"t":"2025-07-30T04:00Z","v":55},{"t":"2025-07-30T08:00Z","v":46.7},{"t":"2025-07-30T12:00Z","v":50.9},{"t":"2025-07-30T16:00Z","v":46.7},{"t":"2025-07-31T00:00Z","v":57.7},{"t":"2025-07-31T04:00Z","v":59.4},{"t":"2025-07-31T08:00Z","v":54.3},{"t":"2025-07-31T16:00Z","v":43},{"t":"2025-07-31T20:00Z","v":39.9},{"t":"2025-08-01T00:00Z","v":41.3},{"t":"2025-08-01T04:00Z","v":36.2},{"t":"2025-08-01T12:00Z","v":34.8},{"t":"2025-08-01T16:00Z","v":26.9},{"t":"2025-08-01T20:00Z","v":25.2},{"t":"2025-08-02T00:00Z","v":31.4},{"t":"2025-08-02T08:00Z","v":31},{"t":"2025-08-02T16:00Z","v":22.8},{"t":"2025-08-02T20:00Z","v":23.5},{"t":"2025-08-03T04:00Z","v":32},{"t":"2025-08-03T08:00Z","v":38.2},{"t":"2025-08-03T12:00Z","v":37.2},{"t":"2025-08-03T16:00Z","v":39.9},{"t":"2025-08-03T20:00Z","v":40.6},{"t":"2025-08-04T00:00Z","v":48.5},{"t":"2025-08-04T08:00Z","v":48.19}],
"rsiMa":[{"t":"2025-06-30T12:00Z","v":57},{"t":"2025-07-01T00:00Z","v":57},{"t":"2025-07-01T16:00Z","v":53.6},{"t":"2025-07-02T08:00Z","v":50.9},{"t":"2025-07-02T20:00Z","v":53.9},{"t":"2025-07-03T12:00Z","v":55.3},{"t":"2025-07-04T04:00Z","v":60.4},{"t":"2025-07-04T16:00Z","v":60},{"t":"2025-07-05T12:00Z","v":54.2},{"t":"2025-07-06T16:00Z","v":50.2},{"t":"2025-07-07T00:00Z","v":54},{"t":"2025-07-08T00:00Z","v":55},{"t":"2025-07-09T08:00Z","v":58.7},{"t":"2025-07-10T04:00Z","v":67.9},{"t":"2025-07-11T16:00Z","v":81.2},{"t":"2025-07-12T08:00Z","v":79.9},{"t":"2025-07-13T00:00Z","v":75.8},{"t":"2025-07-13T20:00Z","v":69.7},{"t":"2025-07-14T20:00Z","v":68.6},{"t":"2025-07-15T20:00Z","v":64.9},{"t":"2025-07-16T16:00Z","v":65.5},{"t":"2025-07-17T16:00Z","v":74.8},{"t":"2025-07-18T12:00Z","v":78.5},{"t":"2025-07-19T20:00Z","v":75.8},{"t":"2025-07-21T12:00Z","v":76.5},{"t":"2025-07-22T12:00Z","v":70.7},{"t":"2025-07-23T08:00Z","v":62.8},{"t":"2025-07-24T04:00Z","v":52.6},{"t":"2025-07-24T20:00Z","v":52.6},{"t":"2025-07-25T16:00Z","v":49.8},{"t":"2025-07-26T04:00Z","v":52.6},{"t":"2025-07-27T04:00Z","v":54.3},{"t":"2025-07-28T08:00Z","v":61.8},{"t":"2025-07-29T04:00Z","v":61.1},{"t":"2025-07-30T04:00Z","v":58.4},{"t":"2025-07-30T20:00Z","v":52.6},{"t":"2025-07-31T08:00Z","v":52.6},{"t":"2025-08-01T04:00Z","v":49.1},{"t":"2025-08-02T04:00Z","v":40.6},{"t":"2025-08-02T20:00Z","v":31.4},{"t":"2025-08-03T08:00Z","v":30.3},{"t":"2025-08-03T20:00Z","v":32},{"t":"2025-08-04T08:00Z","v":35.69}],
"tagPurple":[{"t":"2025-08-11T12:00Z","t2":"2025-08-12T20:38Z","v":61.8,"v2":35.1}],
"tagYellow":[{"t":"2025-08-11T12:00Z","t2":"2025-08-12T20:38Z","v":35.1,"v2":14.6}],
"rsiT1":[{"t":"2025-08-11T18:29Z","v":48.5,"label":"48,19"}],
"rsiT2":[{"t":"2025-08-11T18:29Z","v":21.8,"label":"35,69"}],
"macdZero":[{"t":"2025-06-30T12:27Z","t2":"2025-08-11T11:31Z","m":0}],
"hist":[{"t":"2025-06-30T12:00Z","m":3.8,"k":"g+"},{"t":"2025-06-30T16:00Z","m":5,"k":"g+"},{"t":"2025-06-30T20:00Z","m":2.5,"k":"g-"},{"t":"2025-07-01T00:00Z","m":1.3,"k":"g-"},{"t":"2025-07-01T04:00Z","m":-1.3,"k":"r+"},{"t":"2025-07-01T08:00Z","m":-3.8,"k":"r+"},{"t":"2025-07-01T12:00Z","m":-6.3,"k":"r+"},{"t":"2025-07-01T16:00Z","m":-8.8,"k":"r+"},{"t":"2025-07-01T20:00Z","m":-13.8,"k":"r+"},{"t":"2025-07-02T00:00Z","m":-10.1,"k":"r-"},{"t":"2025-07-02T04:00Z","m":-6.3,"k":"r-"},{"t":"2025-07-02T08:00Z","m":-3.8,"k":"r-"},{"t":"2025-07-02T12:00Z","m":-1.3,"k":"r-"},{"t":"2025-07-02T16:00Z","m":6.3,"k":"g+"},{"t":"2025-07-02T20:00Z","m":10.1,"k":"g+"},{"t":"2025-07-03T00:00Z","m":13.8,"k":"g+"},{"t":"2025-07-03T04:00Z","m":16.4,"k":"g+"},{"t":"2025-07-03T08:00Z","m":16.4,"k":"g+"},{"t":"2025-07-03T12:00Z","m":13.8,"k":"g-"},{"t":"2025-07-03T16:00Z","m":11.3,"k":"g-"},{"t":"2025-07-03T20:00Z","m":11.3,"k":"g-"},{"t":"2025-07-04T00:00Z","m":11.3,"k":"g-"},{"t":"2025-07-04T04:00Z","m":6.3,"k":"g-"},{"t":"2025-07-04T08:00Z","m":1.3,"k":"g-"},{"t":"2025-07-04T12:00Z","m":-6.3,"k":"r+"},{"t":"2025-07-04T16:00Z","m":-13.8,"k":"r+"},{"t":"2025-07-04T20:00Z","m":-13.8,"k":"r+"},{"t":"2025-07-05T00:00Z","m":-7.5,"k":"r-"},{"t":"2025-07-05T04:00Z","m":-5,"k":"r-"},{"t":"2025-07-05T08:00Z","m":-3.8,"k":"r-"},{"t":"2025-07-05T12:00Z","m":-3.8,"k":"r-"},{"t":"2025-07-05T16:00Z","m":-3.8,"k":"r-"},{"t":"2025-07-05T20:00Z","m":-3.8,"k":"r-"},{"t":"2025-07-06T00:00Z","m":-3.8,"k":"r-"},{"t":"2025-07-06T04:00Z","m":-3.8,"k":"r-"},{"t":"2025-07-06T08:00Z","m":-2.5,"k":"r-"},{"t":"2025-07-06T12:00Z","m":-1.3,"k":"r-"},{"t":"2025-07-06T16:00Z","m":-1.3,"k":"r-"},{"t":"2025-07-06T20:00Z","m":3.8,"k":"g+"},{"t":"2025-07-07T00:00Z","m":5,"k":"g+"},{"t":"2025-07-07T04:00Z","m":5,"k":"g+"},{"t":"2025-07-07T08:00Z","m":2.5,"k":"g-"},{"t":"2025-07-07T12:00Z","m":1.3,"k":"g-"},{"t":"2025-07-07T16:00Z","m":-1.3,"k":"r-"},{"t":"2025-07-07T20:00Z","m":-2.5,"k":"r+"},{"t":"2025-07-08T00:00Z","m":-5,"k":"r+"},{"t":"2025-07-08T04:00Z","m":-1.3,"k":"r-"},{"t":"2025-07-08T08:00Z","m":2.5,"k":"g+"},{"t":"2025-07-08T12:00Z","m":3.8,"k":"g+"},{"t":"2025-07-08T16:00Z","m":5,"k":"g+"},{"t":"2025-07-08T20:00Z","m":5,"k":"g+"},{"t":"2025-07-09T00:00Z","m":3.8,"k":"g-"},{"t":"2025-07-09T04:00Z","m":5,"k":"g+"},{"t":"2025-07-09T08:00Z","m":8.8,"k":"g+"},{"t":"2025-07-09T12:00Z","m":8.8,"k":"g+"},{"t":"2025-07-09T16:00Z","m":16.4,"k":"g+"},{"t":"2025-07-09T20:00Z","m":20.1,"k":"g+"},{"t":"2025-07-10T00:00Z","m":23.9,"k":"g+"},{"t":"2025-07-10T04:00Z","m":23.9,"k":"g+"},{"t":"2025-07-10T08:00Z","m":20.1,"k":"g-"},{"t":"2025-07-10T12:00Z","m":16.4,"k":"g-"},{"t":"2025-07-10T16:00Z","m":16.4,"k":"g-"},{"t":"2025-07-10T20:00Z","m":23.9,"k":"g+"},{"t":"2025-07-11T00:00Z","m":27.7,"k":"g+"},{"t":"2025-07-11T04:00Z","m":27.7,"k":"g+"},{"t":"2025-07-11T08:00Z","m":27.7,"k":"g-"},{"t":"2025-07-11T12:00Z","m":23.9,"k":"g-"},{"t":"2025-07-11T16:00Z","m":20.1,"k":"g-"},{"t":"2025-07-11T20:00Z","m":16.4,"k":"g-"},{"t":"2025-07-12T00:00Z","m":12.6,"k":"g-"},{"t":"2025-07-12T04:00Z","m":5,"k":"g-"},{"t":"2025-07-12T08:00Z","m":2.5,"k":"g-"},{"t":"2025-07-12T12:00Z","m":-10.1,"k":"r+"},{"t":"2025-07-12T16:00Z","m":-10.1,"k":"r+"},{"t":"2025-07-12T20:00Z","m":-13.8,"k":"r+"},{"t":"2025-07-13T00:00Z","m":-13.8,"k":"r+"},{"t":"2025-07-13T04:00Z","m":-13.8,"k":"r+"},{"t":"2025-07-13T08:00Z","m":-13.8,"k":"r+"},{"t":"2025-07-13T12:00Z","m":-13.8,"k":"r-"},{"t":"2025-07-13T16:00Z","m":-13.8,"k":"r-"},{"t":"2025-07-13T20:00Z","m":-13.8,"k":"r+"},{"t":"2025-07-14T00:00Z","m":-10.1,"k":"r-"},{"t":"2025-07-14T04:00Z","m":-7.5,"k":"r-"},{"t":"2025-07-14T08:00Z","m":-6.3,"k":"r-"},{"t":"2025-07-14T12:00Z","m":-10.1,"k":"r+"},{"t":"2025-07-14T16:00Z","m":-10.1,"k":"r+"},{"t":"2025-07-14T20:00Z","m":-10.1,"k":"r+"},{"t":"2025-07-15T00:00Z","m":-17.6,"k":"r+"},{"t":"2025-07-15T04:00Z","m":-17.6,"k":"r+"},{"t":"2025-07-15T08:00Z","m":-17.6,"k":"r+"},{"t":"2025-07-15T12:00Z","m":-13.8,"k":"r-"},{"t":"2025-07-15T16:00Z","m":-11.3,"k":"r-"},{"t":"2025-07-15T20:00Z","m":-3.8,"k":"r-"},{"t":"2025-07-16T00:00Z","m":5,"k":"g+"},{"t":"2025-07-16T04:00Z","m":8.8,"k":"g+"},{"t":"2025-07-16T08:00Z","m":8.8,"k":"g+"},{"t":"2025-07-16T12:00Z","m":16.4,"k":"g+"},{"t":"2025-07-16T16:00Z","m":27.7,"k":"g+"},{"t":"2025-07-16T20:00Z","m":31.5,"k":"g+"},{"t":"2025-07-17T00:00Z","m":27.7,"k":"g-"},{"t":"2025-07-17T04:00Z","m":31.5,"k":"g+"},{"t":"2025-07-17T08:00Z","m":31.5,"k":"g-"},{"t":"2025-07-17T12:00Z","m":27.7,"k":"g-"},{"t":"2025-07-17T16:00Z","m":23.9,"k":"g-"},{"t":"2025-07-17T20:00Z","m":20.1,"k":"g-"},{"t":"2025-07-18T00:00Z","m":27.7,"k":"g+"},{"t":"2025-07-18T04:00Z","m":27.7,"k":"g+"},{"t":"2025-07-18T08:00Z","m":27.7,"k":"g-"},{"t":"2025-07-18T12:00Z","m":20.1,"k":"g-"},{"t":"2025-07-18T16:00Z","m":12.6,"k":"g-"},{"t":"2025-07-18T20:00Z","m":5,"k":"g-"},{"t":"2025-07-19T00:00Z","m":3.8,"k":"g-"},{"t":"2025-07-19T04:00Z","m":-2.5,"k":"r+"},{"t":"2025-07-19T08:00Z","m":-3.8,"k":"r+"},{"t":"2025-07-19T12:00Z","m":-6.3,"k":"r+"},{"t":"2025-07-19T16:00Z","m":-12.6,"k":"r+"},{"t":"2025-07-19T20:00Z","m":-16.4,"k":"r+"},{"t":"2025-07-20T00:00Z","m":-11.3,"k":"r-"},{"t":"2025-07-20T04:00Z","m":-6.3,"k":"r-"},{"t":"2025-07-20T08:00Z","m":-2.5,"k":"r-"},{"t":"2025-07-20T12:00Z","m":5,"k":"g+"},{"t":"2025-07-20T16:00Z","m":0.5,"k":"g-"},{"t":"2025-07-20T20:00Z","m":-2.5,"k":"r+"},{"t":"2025-07-21T00:00Z","m":-2.5,"k":"r+"},{"t":"2025-07-21T04:00Z","m":-3.8,"k":"r+"},{"t":"2025-07-21T08:00Z","m":-5,"k":"r+"},{"t":"2025-07-21T12:00Z","m":-7.5,"k":"r+"},{"t":"2025-07-21T16:00Z","m":-8.8,"k":"r+"},{"t":"2025-07-21T20:00Z","m":-13.8,"k":"r+"},{"t":"2025-07-22T00:00Z","m":-16.4,"k":"r+"},{"t":"2025-07-22T04:00Z","m":-21.4,"k":"r+"},{"t":"2025-07-22T08:00Z","m":-26.4,"k":"r+"},{"t":"2025-07-22T12:00Z","m":-27.7,"k":"r+"},{"t":"2025-07-22T16:00Z","m":-27.7,"k":"r+"},{"t":"2025-07-22T20:00Z","m":-25.2,"k":"r-"},{"t":"2025-07-23T00:00Z","m":-25.2,"k":"r-"},{"t":"2025-07-23T04:00Z","m":-25.2,"k":"r+"},{"t":"2025-07-23T08:00Z","m":-27.7,"k":"r+"},{"t":"2025-07-23T12:00Z","m":-27.7,"k":"r+"},{"t":"2025-07-23T16:00Z","m":-32.7,"k":"r+"},{"t":"2025-07-23T20:00Z","m":-32.7,"k":"r-"},{"t":"2025-07-24T00:00Z","m":-28.9,"k":"r-"},{"t":"2025-07-24T04:00Z","m":-28.9,"k":"r+"},{"t":"2025-07-24T08:00Z","m":-21.4,"k":"r-"},{"t":"2025-07-24T12:00Z","m":-12.6,"k":"r-"},{"t":"2025-07-24T16:00Z","m":-6.3,"k":"r-"},{"t":"2025-07-24T20:00Z","m":-2.5,"k":"r-"},{"t":"2025-07-25T00:00Z","m":-13.8,"k":"r+"},{"t":"2025-07-25T04:00Z","m":-13.8,"k":"r+"},{"t":"2025-07-25T08:00Z","m":-3.8,"k":"r-"},{"t":"2025-07-25T12:00Z","m":-10.1,"k":"r+"},{"t":"2025-07-25T16:00Z","m":-10.1,"k":"r+"},{"t":"2025-07-25T20:00Z","m":-2.5,"k":"r-"},{"t":"2025-07-26T00:00Z","m":1.3,"k":"g+"},{"t":"2025-07-26T04:00Z","m":3.8,"k":"g+"},{"t":"2025-07-26T08:00Z","m":3.8,"k":"g+"},{"t":"2025-07-26T12:00Z","m":1.3,"k":"g-"},{"t":"2025-07-26T16:00Z","m":8.8,"k":"g+"},{"t":"2025-07-26T20:00Z","m":3.8,"k":"g-"},{"t":"2025-07-27T00:00Z","m":8.8,"k":"g+"},{"t":"2025-07-27T04:00Z","m":3.8,"k":"g-"},{"t":"2025-07-27T08:00Z","m":8.8,"k":"g+"},{"t":"2025-07-27T12:00Z","m":12.6,"k":"g+"},{"t":"2025-07-27T16:00Z","m":12.6,"k":"g+"},{"t":"2025-07-27T20:00Z","m":13.8,"k":"g+"},{"t":"2025-07-28T00:00Z","m":16.4,"k":"g+"},{"t":"2025-07-28T04:00Z","m":16.4,"k":"g+"},{"t":"2025-07-28T08:00Z","m":6.3,"k":"g-"},{"t":"2025-07-28T12:00Z","m":1.3,"k":"g-"},{"t":"2025-07-28T16:00Z","m":-1.3,"k":"r-"},{"t":"2025-07-28T20:00Z","m":-3.8,"k":"r+"},{"t":"2025-07-29T00:00Z","m":-10.1,"k":"r+"},{"t":"2025-07-29T04:00Z","m":-0.5,"k":"r-"},{"t":"2025-07-29T08:00Z","m":-6.3,"k":"r+"},{"t":"2025-07-29T12:00Z","m":-13.8,"k":"r+"},{"t":"2025-07-29T16:00Z","m":-13.8,"k":"r+"},{"t":"2025-07-29T20:00Z","m":-6.3,"k":"r-"},{"t":"2025-07-30T00:00Z","m":-6.3,"k":"r-"},{"t":"2025-07-30T04:00Z","m":-2.5,"k":"r-"},{"t":"2025-07-30T08:00Z","m":-13.8,"k":"r+"},{"t":"2025-07-30T12:00Z","m":-3.8,"k":"r-"},{"t":"2025-07-30T16:00Z","m":-13.8,"k":"r+"},{"t":"2025-07-30T20:00Z","m":-1.3,"k":"r-"},{"t":"2025-07-31T00:00Z","m":0.5,"k":"g-"},{"t":"2025-07-31T04:00Z","m":1.3,"k":"g+"},{"t":"2025-07-31T08:00Z","m":1.3,"k":"g+"},{"t":"2025-07-31T12:00Z","m":-3.8,"k":"r+"},{"t":"2025-07-31T16:00Z","m":-7.5,"k":"r+"},{"t":"2025-07-31T20:00Z","m":-17.6,"k":"r+"},{"t":"2025-08-01T00:00Z","m":-17.6,"k":"r+"},{"t":"2025-08-01T04:00Z","m":-21.4,"k":"r+"},{"t":"2025-08-01T08:00Z","m":-23.9,"k":"r+"},{"t":"2025-08-01T12:00Z","m":-28.9,"k":"r+"},{"t":"2025-08-01T16:00Z","m":-32.7,"k":"r+"},{"t":"2025-08-01T20:00Z","m":-36.5,"k":"r+"},{"t":"2025-08-02T00:00Z","m":-28.9,"k":"r-"},{"t":"2025-08-02T04:00Z","m":-28.9,"k":"r-"},{"t":"2025-08-02T08:00Z","m":-28.9,"k":"r-"},{"t":"2025-08-02T12:00Z","m":-28.9,"k":"r-"},{"t":"2025-08-02T16:00Z","m":-32.7,"k":"r+"},{"t":"2025-08-02T20:00Z","m":-28.9,"k":"r-"},{"t":"2025-08-03T00:00Z","m":-21.4,"k":"r-"},{"t":"2025-08-03T04:00Z","m":-13.8,"k":"r-"},{"t":"2025-08-03T08:00Z","m":-6.3,"k":"r-"},{"t":"2025-08-03T12:00Z","m":-2.5,"k":"r-"},{"t":"2025-08-03T16:00Z","m":6.3,"k":"g+"},{"t":"2025-08-03T20:00Z","m":8.8,"k":"g+"},{"t":"2025-08-04T00:00Z","m":12.6,"k":"g+"},{"t":"2025-08-04T04:00Z","m":15.1,"k":"g+"},{"t":"2025-08-04T08:00Z","m":19.5,"k":"g+"}],
"macd":[{"t":"2025-06-30T12:00Z","m":18.9},{"t":"2025-06-30T20:00Z","m":21.4},{"t":"2025-07-01T08:00Z","m":12.6},{"t":"2025-07-01T20:00Z","m":0},{"t":"2025-07-02T08:00Z","m":3.8},{"t":"2025-07-02T20:00Z","m":18.9},{"t":"2025-07-03T08:00Z","m":37.7},{"t":"2025-07-03T20:00Z","m":40.3},{"t":"2025-07-04T08:00Z","m":34},{"t":"2025-07-04T20:00Z","m":16.4},{"t":"2025-07-05T12:00Z","m":8.8},{"t":"2025-07-06T04:00Z","m":8.8},{"t":"2025-07-07T00:00Z","m":16.4},{"t":"2025-07-07T20:00Z","m":12.6},{"t":"2025-07-08T16:00Z","m":18.9},{"t":"2025-07-09T12:00Z","m":28.9},{"t":"2025-07-09T20:00Z","m":50.3},{"t":"2025-07-10T12:00Z","m":66.4},{"t":"2025-07-11T04:00Z","m":104},{"t":"2025-07-11T16:00Z","m":110.7},{"t":"2025-07-12T12:00Z","m":94.4},{"t":"2025-07-13T08:00Z","m":73},{"t":"2025-07-14T04:00Z","m":66.7},{"t":"2025-07-14T20:00Z","m":54},{"t":"2025-07-15T12:00Z","m":41.5},{"t":"2025-07-15T20:00Z","m":46.5},{"t":"2025-07-16T12:00Z","m":65.4},{"t":"2025-07-16T20:00Z","m":100.6},{"t":"2025-07-17T12:00Z","m":129.5},{"t":"2025-07-17T20:00Z","m":134.5},{"t":"2025-07-18T08:00Z","m":159.6},{"t":"2025-07-18T16:00Z","m":154.7},{"t":"2025-07-19T12:00Z","m":124.5},{"t":"2025-07-19T20:00Z","m":115.7},{"t":"2025-07-20T12:00Z","m":132},{"t":"2025-07-21T12:00Z","m":124.5},{"t":"2025-07-22T00:00Z","m":94.4},{"t":"2025-07-22T12:00Z","m":69.2},{"t":"2025-07-23T04:00Z","m":54},{"t":"2025-07-23T16:00Z","m":25},{"t":"2025-07-24T04:00Z","m":6.3},{"t":"2025-07-24T16:00Z","m":21.4},{"t":"2025-07-25T04:00Z","m":8.8},{"t":"2025-07-25T16:00Z","m":6.3},{"t":"2025-07-26T04:00Z","m":21.4},{"t":"2025-07-27T04:00Z","m":29},{"t":"2025-07-27T20:00Z","m":46.5},{"t":"2025-07-28T08:00Z","m":56.6},{"t":"2025-07-28T20:00Z","m":41.5},{"t":"2025-07-29T04:00Z","m":37.7},{"t":"2025-07-29T20:00Z","m":21.4},{"t":"2025-07-30T16:00Z","m":8.8},{"t":"2025-07-31T08:00Z","m":18.9},{"t":"2025-08-01T04:00Z","m":-18.9},{"t":"2025-08-01T20:00Z","m":-59.1},{"t":"2025-08-02T12:00Z","m":-79.2},{"t":"2025-08-02T20:00Z","m":-95.6},{"t":"2025-08-03T08:00Z","m":-89.3},{"t":"2025-08-03T20:00Z","m":-75.5},{"t":"2025-08-04T08:00Z","m":-45.2}],
"signal":[{"t":"2025-06-30T12:00Z","m":16.4},{"t":"2025-07-01T08:00Z","m":15.1},{"t":"2025-07-02T08:00Z","m":3.8},{"t":"2025-07-03T08:00Z","m":21.4},{"t":"2025-07-04T04:00Z","m":34},{"t":"2025-07-05T00:00Z","m":21.4},{"t":"2025-07-06T04:00Z","m":8.8},{"t":"2025-07-07T08:00Z","m":11.3},{"t":"2025-07-08T16:00Z","m":15.1},{"t":"2025-07-09T12:00Z","m":21.4},{"t":"2025-07-10T16:00Z","m":54.1},{"t":"2025-07-11T12:00Z","m":88},{"t":"2025-07-12T08:00Z","m":99.4},{"t":"2025-07-13T16:00Z","m":75.5},{"t":"2025-07-14T16:00Z","m":69.2},{"t":"2025-07-15T16:00Z","m":50.3},{"t":"2025-07-16T12:00Z","m":56.6},{"t":"2025-07-17T08:00Z","m":100.6},{"t":"2025-07-18T16:00Z","m":144.6},{"t":"2025-07-19T20:00Z","m":125.8},{"t":"2025-07-21T12:00Z","m":124.5},{"t":"2025-07-22T12:00Z","m":96.9},{"t":"2025-07-23T08:00Z","m":66.7},{"t":"2025-07-24T08:00Z","m":28.9},{"t":"2025-07-25T00:00Z","m":21.4},{"t":"2025-07-25T16:00Z","m":12.6},{"t":"2025-07-27T04:00Z","m":22.6},{"t":"2025-07-28T12:00Z","m":46.5},{"t":"2025-07-29T08:00Z","m":38.9},{"t":"2025-07-30T16:00Z","m":18.9},{"t":"2025-07-31T16:00Z","m":16.4},{"t":"2025-08-01T12:00Z","m":-12.6},{"t":"2025-08-02T12:00Z","m":-54.1},{"t":"2025-08-03T04:00Z","m":-78},{"t":"2025-08-03T20:00Z","m":-78},{"t":"2025-08-04T08:00Z","m":-65.4}],
"tagTeal":[{"t":"2025-08-11T12:00Z","t2":"2025-08-12T16:05Z","m":69,"m2":-25.3}],
"tagBlue":[{"t":"2025-08-11T12:00Z","t2":"2025-08-12T20:38Z","m":-25.3,"m2":-123.4}],
"macdT":[{"t":"2025-08-11T18:29Z","m":20,"label":"19,5"},{"t":"2025-08-11T18:29Z","m":-74.3,"label":"−45,2"}]
},
"encoding":{"x":{"field":"t","type":"temporal","title":null,"scale":{"type":"utc","domain":["2025-06-30T04:36Z","2025-08-13T20:51Z"],"nice":false,"padding":0},"axis":{"orient":"bottom","offset":-95,"domain":false,"ticks":false,"grid":false,"labelPadding":13,"labelFont":"Lato","labelFontSize":17,"labelColor":"#c4c4c4","labelOverlap":false,"labelFlush":false,"zindex":1,"values":["2025-07-01T00:00Z","2025-07-03T00:00Z","2025-07-05T00:00Z","2025-07-07T00:00Z","2025-07-09T00:00Z","2025-07-11T00:00Z","2025-07-13T00:00Z","2025-07-15T00:00Z","2025-07-17T00:00Z","2025-07-19T00:00Z","2025-07-21T00:00Z","2025-07-23T00:00Z","2025-07-25T00:00Z","2025-07-27T00:00Z","2025-07-29T00:00Z","2025-08-01T00:00Z","2025-08-03T00:00Z","2025-08-05T00:00Z","2025-08-07T00:00Z","2025-08-09T00:00Z","2025-08-11T00:00Z"],"labelExpr":"utcdate(datum.value)==1 ? (utcmonth(datum.value)==6 ? 'Июл' : 'Авг') : ''+utcdate(datum.value)"}}},
"resolve":{"scale":{"y":"independent"}},
"layer":[
{"encoding":{"y":{"field":"p","type":"quantitative","title":null,"scale":{"domain":[2092.9,4298.7],"nice":false,"zero":false},"axis":{"orient":"right","offset":-114,"domain":false,"ticks":false,"grid":false,"labelPadding":14,"labelOffset":-1.5,"labelFont":"Lato","labelFontSize":17,"labelColor":"#c4c4c4","labelAlign":"left","labelOverlap":false,"labelFlush":false,"zindex":1,"values":[2600,2700,2800,2900,3000,3100,3200,3300,3400,3600,3800,3900,4000,4100],"labelExpr":"replace(replace(format(datum.value,',.1f'),',',' '),'.',',')"}}},
"layer":[
{"data":{"name":"frame","format":{"parse":{"t":"date","t2":"date"}}},"mark":{"type":"rect","fill":"#dbdbdb","stroke":"#767676","strokeWidth":1.5},"encoding":{"x2":{"field":"t2"},"y2":{"field":"p2"}}},
{"data":{"name":"vgrid"},"mark":{"type":"rule","stroke":"#d0d0d0","strokeWidth":1},"encoding":{"y":{"datum":4219.8},"y2":{"datum":2275.6}}},
{"data":{"name":"hgrid","format":{"parse":{"t":"date","t2":"date"}}},"mark":{"type":"rule","stroke":"#d0d0d0","strokeWidth":1},"encoding":{"x2":{"field":"t2"}}},
{"data":{"name":"anchor"},"mark":{"type":"point","filled":true,"size":4,"opacity":1,"fill":"#c9c9c9","stroke":null,"shape":"M-395,-145 H-248 V-100 H-321 V13 H-260 V75 H-321 V205 H-395 Z M-238,28 A112,183 0 1 1 -14,28 A112,183 0 1 1 -238,28 Z M-164,28 A38,126 0 1 0 -88,28 A38,126 0 1 0 -164,28 Z M13,-147 H105 A72,95 0 0 1 177,-52 Q177,10 148,33 L192,205 H112 L82,50 V205 H13 Z M82,-90 V-5 H100 Q115,-5 115,-47 Q115,-90 100,-90 Z M231,-147 H373 V-100 H299 V-25 H357 V25 H299 V158 H373 V205 H231 Z M380,-147 H460 L482,-60 L505,-147 H580 L525,25 L584,205 H505 L480,110 L455,205 H380 L440,25 Z M599,192 H627 V205 H599 Z M712,115 H684 Q684,92 675,92 Q664,92 664,134 Q664,176 675,176 Q684,176 684,153 H712 Q712,202 675,202 Q637,202 637,134 Q637,66 675,66 Q712,66 712,115 Z M724,134 A39,68 0 1 1 802,134 A39,68 0 1 1 724,134 Z M751,134 A12,44 0 1 0 775,134 A12,44 0 1 0 751,134 Z M817,68 H847 L863,150 L879,68 H909 V202 H886 V120 L871,202 H855 L840,120 V202 H817 Z"},"encoding":{}},
{"data":{"name":"anchor"},"mark":{"type":"point","filled":true,"size":4,"opacity":1,"fill":"#e2d0d0","stroke":null,"shape":"M-850,-40 H-735 V-5 H-769 V192 H-816 V-5 H-850 Z M-714,78 A71,124 0 1 1 -572,78 A71,124 0 1 1 -714,78 Z M-667,78 A24,92 0 1 0 -619,78 A24,92 0 1 0 -667,78 Z M-550,-40 H-480 A54,70 0 0 1 -426,30 Q-426,70 -446,85 L-416,202 H-470 L-500,100 V202 H-550 Z M-501,-5 V58 H-485 Q-468,58 -468,26 Q-468,-5 -485,-5 Z M591,-78 L710,-197 L750,-158 L875,-278 L912,-240 L752,-81 L707,-130 L625,-38 Z M591,5 H910 V43 H591 Z"},"encoding":{}},
{"data":{"name":"zonesG","format":{"parse":{"t":"date","t2":"date"}}},"mark":{"type":"rect","fill":"#70ff70","fillOpacity":0.25,"stroke":"#52ff52","strokeWidth":2},"encoding":{"x2":{"field":"t2"},"y2":{"field":"p2"}}},
{"data":{"name":"zonesR","format":{"parse":{"t":"date","t2":"date"}}},"mark":{"type":"rect","fill":"#b22222","fillOpacity":0.2,"stroke":"#ad4f4f","strokeWidth":2},"encoding":{"x2":{"field":"t2"},"y2":{"field":"p2"}}},
{"data":{"name":"highs","format":{"parse":{"t":"date","t2":"date"}}},"mark":{"type":"rule","stroke":"#7fc4bb","strokeWidth":1.8},"encoding":{"x2":{"field":"t2"}}},
{"data":{"name":"lows","format":{"parse":{"t":"date","t2":"date"}}},"mark":{"type":"rule","stroke":"#eb9aa2","strokeWidth":1.8},"encoding":{"x2":{"field":"t2"}}},
{"data":{"name":"maSlow"},"mark":{"type":"line","stroke":"#111111","strokeWidth":1.8,"interpolate":"monotone"},"encoding":{}},
{"data":{"name":"maMid"},"mark":{"type":"line","stroke":"#111111","strokeWidth":1.8,"interpolate":"monotone"},"encoding":{}},
{"data":{"name":"maFast"},"mark":{"type":"line","stroke":"#444444","strokeOpacity":0.85,"strokeWidth":1.6},"encoding":{}},
{"data":{"name":"lastPrice","format":{"parse":{"t":"date","t2":"date"}}},"mark":{"type":"rule","stroke":"#1b5e20","strokeWidth":1,"strokeDash":[1,2]},"encoding":{"x2":{"field":"t2"}}},
{"data":{"name":"candles"},"mark":{"type":"rule","strokeWidth":1.3},"encoding":{"y":{"field":"h"},"y2":{"field":"l"},"color":{"condition":{"test":"datum.c>=datum.o","value":"#1b5e20"},"value":"#801922"}}},
{"data":{"name":"candles"},"mark":{"type":"bar","size":7},"encoding":{"y":{"field":"o"},"y2":{"field":"c"},"color":{"condition":{"test":"datum.c>=datum.o","value":"#1b5e20"},"value":"#801922"}}},
{"data":{"name":"arrow"},"mark":{"type":"line","stroke":"#7e7e8e","strokeWidth":3,"strokeJoin":"miter"},"encoding":{"order":{"field":"i"}}},
{"data":{"name":"badge1"},"mark":{"type":"point","filled":true,"shape":"circle","size":855,"opacity":1,"fill":"#ffffff","stroke":null},"encoding":{}},
{"data":{"name":"badge1"},"mark":{"type":"point","filled":true,"shape":"circle","size":560,"opacity":1,"fill":"#ffffff","stroke":"#9c27b0","strokeWidth":3},"encoding":{}},
{"data":{"name":"badge1"},"mark":{"type":"point","filled":true,"size":4,"opacity":1,"fill":"#9c27b0","stroke":null,"shape":"M4,-9 L-6,2 H-1 L-4,9 L6,-2 H1 Z"},"encoding":{}},
{"data":{"name":"badge2"},"mark":{"type":"point","filled":true,"shape":"circle","size":620,"opacity":1,"fill":"#ffffff","stroke":"#f23645","strokeWidth":3},"encoding":{}},
{"data":{"name":"badge2"},"mark":{"type":"point","filled":true,"size":4,"opacity":1,"fill":"#f05050","stroke":null,"shape":"M2,-11 L7,-9 L10,-6 H2 Z M2,-2 H12 V3 H2 Z M-9,7 H9 L5,11 H-5 Z"},"encoding":{}},
{"data":{"name":"badge2"},"mark":{"type":"point","filled":true,"size":4,"opacity":1,"fill":"#2196f3","stroke":null,"shape":"M2,-12 V3 H-12 A12,15 0 0 1 2,-12 Z"},"encoding":{}},
{"data":{"name":"dividers","format":{"parse":{"t":"date","t2":"date"}}},"mark":{"type":"rule","stroke":"#2a2a2a","strokeWidth":1.5},"encoding":{"x2":{"field":"t2"}}},
{"data":{"name":"usdTag","format":{"parse":{"t":"date","t2":"date"}}},"mark":{"type":"rect","fill":"#f4f4f4","cornerRadius":5},"encoding":{"x2":{"field":"t2"},"y2":{"field":"p2"}}},
{"data":{"name":"usdText"},"mark":{"type":"text","align":"left","baseline":"middle","font":"Lato","fontSize":16,"fill":"#131722"},"encoding":{"text":{"field":"label"}}},
{"data":{"name":"tagBlack","format":{"parse":{"t":"date","t2":"date"}}},"mark":{"type":"rect","fill":"#0a0a0a","cornerRadius":2},"encoding":{"x2":{"field":"t2"},"y2":{"field":"p2"}}},
{"data":{"name":"tagGrey","format":{"parse":{"t":"date","t2":"date"}}},"mark":{"type":"rect","fill":"#4a4a4a","cornerRadius":2},"encoding":{"x2":{"field":"t2"},"y2":{"field":"p2"}}},
{"data":{"name":"tagGreen","format":{"parse":{"t":"date","t2":"date"}}},"mark":{"type":"rect","fill":"#1b5e20","cornerRadius":2},"encoding":{"x2":{"field":"t2"},"y2":{"field":"p2"}}},
{"data":{"name":"tagText"},"mark":{"type":"text","align":"left","baseline":"middle","font":"Lato","fontSize":17,"fill":"#ffffff","fontWeight":600},"encoding":{"text":{"field":"label"}}},
{"data":{"name":"timer"},"mark":{"type":"text","align":"left","baseline":"middle","font":"Lato","fontSize":17,"fill":"#c5d8c6"},"encoding":{"text":{"field":"label"}}},
{"data":{"name":"header"},"mark":{"type":"text","align":"left","baseline":"middle","font":"Lato","fontSize":18.2,"fill":"#ffffff"},"encoding":{"text":{"field":"label"}}},
{"data":{"name":"legendText"},"mark":{"type":"text","align":"left","baseline":"middle","font":"Lato","fontSize":17.5,"fill":"#c4c4c4"},"encoding":{"text":{"field":"label"}}},
{"data":{"name":"brand"},"mark":{"type":"text","align":"left","baseline":"middle","font":"Lato","fontSize":20,"fill":"#ffffff"},"encoding":{"text":{"field":"label"}}},
{"data":{"name":"tvAnchor"},"mark":{"type":"point","filled":true,"size":4,"opacity":1,"fill":"#ffffff","stroke":null,"shape":"M0,0 H12 V15 H6 V6 H0 Z M13,3 A3,3 0 1 1 19,3 A3,3 0 1 1 13,3 Z M22,0 H29 L23,15 H16 Z"},"encoding":{}}
]},
{"encoding":{"y":{"field":"v","type":"quantitative","title":null,"scale":{"domain":[-170,1006.4],"nice":false,"zero":false},"axis":null}},
"layer":[
{"data":{"name":"rsiBand","format":{"parse":{"t":"date","t2":"date"}}},"mark":{"type":"rect","fill":"#d0ccdd"},"encoding":{"x2":{"field":"t2"},"y2":{"field":"v2"}}},
{"data":{"name":"rsiDark","format":{"parse":{"t":"date","t2":"date"}}},"mark":{"type":"rule","stroke":"#787584","strokeWidth":1,"strokeDash":[4,3]},"encoding":{"x2":{"field":"t2"}}},
{"data":{"name":"rsiMid","format":{"parse":{"t":"date","t2":"date"}}},"mark":{"type":"rule","stroke":"#a6a3b2","strokeWidth":1,"strokeDash":[4,3]},"encoding":{"x2":{"field":"t2"}}},
{"data":{"name":"rsiOb"},"mark":{"type":"area","color":{"x1":1,"y1":0,"x2":1,"y2":1,"gradient":"linear","stops":[{"offset":0,"color":"#7fbf86"},{"offset":1,"color":"#d8dcd8"}]}},"encoding":{"y2":{"datum":70}}},
{"data":{"name":"rsiOs"},"mark":{"type":"area","fill":"#e3b9c4","opacity":0.7},"encoding":{"y2":{"datum":30}}},
{"data":{"name":"rsiMa"},"mark":{"type":"line","stroke":"#fdd835","strokeWidth":1.8,"interpolate":"monotone"},"encoding":{}},
{"data":{"name":"rsi"},"mark":{"type":"line","stroke":"#7e57c2","strokeWidth":1.5},"encoding":{}},
{"data":{"name":"tagPurple","format":{"parse":{"t":"date","t2":"date"}}},"mark":{"type":"rect","fill":"#7e57c2","cornerRadius":2},"encoding":{"x2":{"field":"t2"},"y2":{"field":"v2"}}},
{"data":{"name":"tagYellow","format":{"parse":{"t":"date","t2":"date"}}},"mark":{"type":"rect","fill":"#fdd835"},"encoding":{"x2":{"field":"t2"},"y2":{"field":"v2"}}},
{"data":{"name":"rsiT1"},"mark":{"type":"text","align":"left","baseline":"middle","font":"Lato","fontSize":17,"fontWeight":600,"fill":"#ffffff"},"encoding":{"text":{"field":"label"}}},
{"data":{"name":"rsiT2"},"mark":{"type":"text","align":"left","baseline":"middle","font":"Lato","fontSize":17,"fontWeight":600,"fill":"#000000"},"encoding":{"text":{"field":"label"}}}
]},
{"encoding":{"y":{"field":"m","type":"quantitative","title":null,"scale":{"domain":[-485.7,3842.6],"nice":false,"zero":false},"axis":null}},
"layer":[
{"data":{"name":"macdZero","format":{"parse":{"t":"date","t2":"date"}}},"mark":{"type":"rule","stroke":"#a9a9a9","strokeWidth":1,"strokeDash":[4,3]},"encoding":{"x2":{"field":"t2"}}},
{"data":{"name":"hist"},"mark":{"type":"bar","size":7},"encoding":{"y2":{"datum":0},"color":{"field":"k","type":"nominal","legend":null,"scale":{"domain":["g+","g-","r+","r-"],"range":["#26a69a","#b2dfdb","#ff5252","#ffcdd2"]}}}},
{"data":{"name":"macd"},"mark":{"type":"line","stroke":"#2962ff","strokeWidth":1.8,"interpolate":"monotone"},"encoding":{}},
{"data":{"name":"signal"},"mark":{"type":"line","stroke":"#ff6d00","strokeWidth":1.8,"interpolate":"monotone"},"encoding":{}},
{"data":{"name":"tagTeal","format":{"parse":{"t":"date","t2":"date"}}},"mark":{"type":"rect","fill":"#26a69a","cornerRadius":2},"encoding":{"x2":{"field":"t2"},"y2":{"field":"m2"}}},
{"data":{"name":"tagBlue","format":{"parse":{"t":"date","t2":"date"}}},"mark":{"type":"rect","fill":"#2962ff","cornerRadius":2},"encoding":{"x2":{"field":"t2"},"y2":{"field":"m2"}}},
{"data":{"name":"macdT"},"mark":{"type":"text","align":"left","baseline":"middle","font":"Lato","fontSize":17,"fontWeight":600,"fill":"#ffffff"},"encoding":{"text":{"field":"label"}}}
]}
]}
